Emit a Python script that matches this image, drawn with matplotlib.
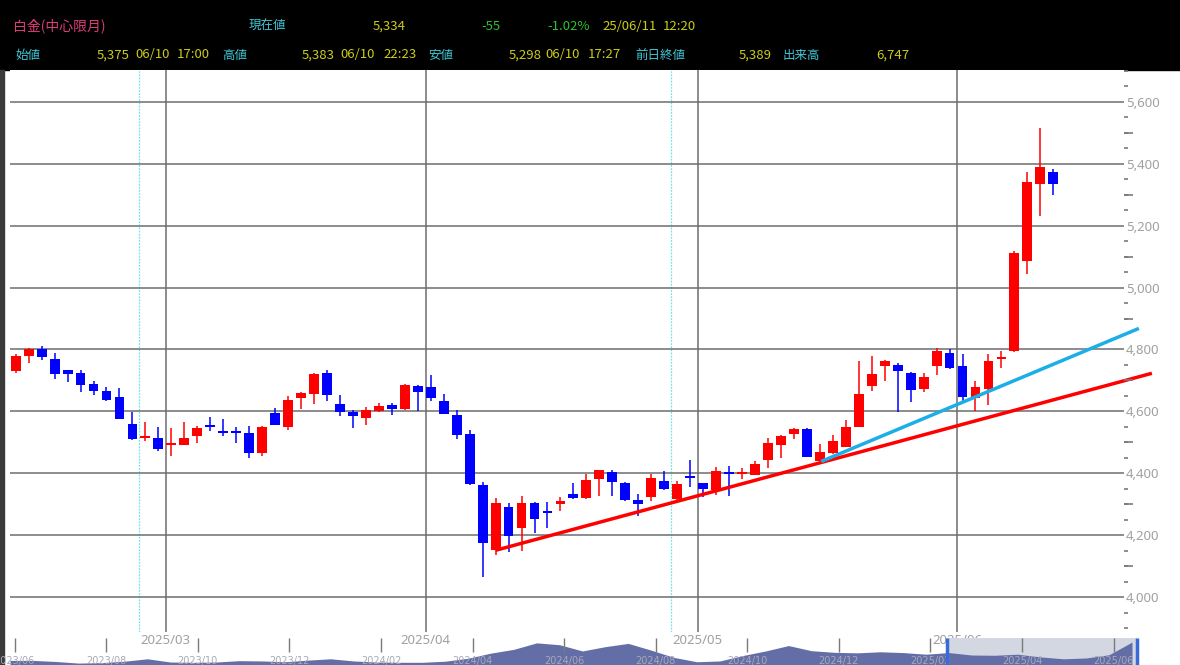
import numpy as np
import matplotlib
matplotlib.use('Agg')
import matplotlib.pyplot as plt
from matplotlib.patches import Rectangle
from matplotlib.ticker import MultipleLocator, FuncFormatter

# daily candles, platinum (front month)
opens = np.array([4730, 4778, 4800, 4770, 4733, 4725, 4687, 4665, 4646, 4560,
                  4513, 4513, 4492, 4492, 4519, 4554, 4538, 4535, 4529, 4465,
                  4595, 4551, 4643, 4656, 4724, 4624, 4597, 4580, 4600, 4619,
                  4609, 4681, 4678, 4632, 4587, 4526, 4362, 4151, 4292, 4224,
                  4305, 4278, 4299, 4332, 4319, 4382, 4405, 4367, 4313, 4322,
                  4376, 4317, 4391, 4367, 4345, 4402, 4398, 4395, 4443, 4490,
                  4526, 4543, 4440, 4465, 4486, 4550, 4683, 4748, 4749, 4724,
                  4673, 4746, 4789, 4746, 4643, 4673, 4768, 4795, 5085, 5335,
                  5375])
highs = np.array([4785, 4805, 4811, 4789, 4735, 4732, 4697, 4678, 4676, 4597,
                  4565, 4551, 4546, 4565, 4554, 4581, 4576, 4548, 4554, 4553,
                  4611, 4649, 4662, 4724, 4735, 4654, 4603, 4613, 4627, 4627,
                  4688, 4684, 4716, 4657, 4605, 4540, 4373, 4319, 4303, 4327,
                  4308, 4306, 4324, 4367, 4398, 4412, 4411, 4373, 4332, 4398,
                  4408, 4375, 4443, 4370, 4420, 4425, 4416, 4440, 4513, 4522,
                  4546, 4545, 4495, 4522, 4573, 4762, 4778, 4766, 4755, 4727,
                  4724, 4805, 4800, 4784, 4697, 4784, 4795, 5119, 5375, 5517,
                  5383])
lows = np.array([4725, 4755, 4765, 4703, 4695, 4662, 4652, 4635, 4574, 4508,
                 4505, 4473, 4456, 4490, 4497, 4535, 4521, 4497, 4448, 4457,
                 4555, 4541, 4609, 4624, 4635, 4584, 4546, 4557, 4598, 4589,
                 4605, 4600, 4635, 4590, 4511, 4362, 4065, 4137, 4144, 4148,
                 4208, 4224, 4279, 4317, 4317, 4327, 4327, 4311, 4263, 4311,
                 4347, 4315, 4354, 4324, 4330, 4327, 4380, 4393, 4418, 4448,
                 4511, 4451, 4438, 4462, 4484, 4548, 4667, 4699, 4597, 4630,
                 4662, 4719, 4738, 4632, 4600, 4622, 4740, 4793, 5045, 5232,
                 5298])
closes = np.array([4778, 4800, 4775, 4721, 4722, 4684, 4665, 4638, 4576, 4511,
                   4519, 4478, 4496, 4513, 4546, 4550, 4531, 4529, 4465, 4551,
                   4557, 4636, 4659, 4722, 4652, 4598, 4584, 4605, 4616, 4609,
                   4684, 4663, 4643, 4593, 4524, 4364, 4175, 4305, 4197, 4303,
                   4251, 4274, 4311, 4319, 4378, 4409, 4371, 4313, 4301, 4384,
                   4349, 4365, 4387, 4349, 4408, 4398, 4402, 4429, 4499, 4519,
                   4543, 4453, 4470, 4503, 4551, 4657, 4721, 4762, 4730, 4670,
                   4710, 4795, 4740, 4646, 4678, 4762, 4774, 5113, 5340, 5389,
                   5334])

# month boundaries and the two cyan marker lines (candle index units)
month_pos = [11.57, 31.6, 52.6, 72.6]
month_labels = ['2025/03', '2025/04', '2025/05', '2025/06']
cyan_pos = [9.5, 50.5]

# hand-drawn trend lines: (index, price) at both ends
red_line_x = [37, 87.6]
red_line_y = [4151, 4723]
blue_line_x = [62.1, 86.6]
blue_line_y = [4438, 4868]

# navigator strip (long term area, half-month steps, 0..1)
nav_vals = np.array([0.17, 0.17, 0.13, 0.07, 0.09, 0.14, 0.23, 0.11, 0.10, 0.11,
                     0.16, 0.15, 0.12, 0.18, 0.23, 0.15, 0.11, 0.10, 0.10, 0.14,
                     0.25, 0.44, 0.58, 0.82, 0.75, 0.52, 0.68, 0.80, 0.55, 0.28,
                     0.12, 0.15, 0.35, 0.52, 0.72, 0.53, 0.47, 0.45, 0.49, 0.46,
                     0.40, 0.46, 0.37, 0.36, 0.40, 0.30, 0.23, 0.26, 0.38, 0.85])
nav_labels = ['2023/06', '2023/08', '2023/10', '2023/12', '2024/02', '2024/04', '2024/06',
              '2024/08', '2024/10', '2024/12', '2025/02', '2025/04', '2025/06']
nav_window = [40.9, 49.2]

W, H = 1180, 665
fig = plt.figure(figsize=(11.8, 6.65), dpi=100, facecolor='white')

def fx(px):
    return px / W

def fy(py):
    return 1 - py / H

# black header + dark left border
fig.add_artist(Rectangle((0, fy(70)), 1, 70 / H, transform=fig.transFigure, color='black', zorder=0))
fig.add_artist(Rectangle((0, 0), 4 / W, fy(70), transform=fig.transFigure, color='#3a3a3a', zorder=0))

jp = ['Noto Sans CJK JP', 'DejaVu Sans']
pink, cyan, yellow, green = '#dc3c78', '#40c8d8', '#cccc18', '#2cc02c'
header = [
    ('白金(中心限月)', 13, 26, pink, 10),
    ('現在値', 249, 26, cyan, 9),
    ('5,334', 373, 26, yellow, 9.5),
    ('-55', 481, 26, green, 9.5),
    ('-1.02%', 547, 26, green, 9.5),
    ('25/06/11', 602, 26, yellow, 9.5),
    ('12:20', 663, 26, yellow, 9.5),
    ('始値', 15, 55, cyan, 9),
    ('5,375', 97, 55, yellow, 9.5),
    ('06/10', 135, 55, yellow, 9.5),
    ('17:00', 177, 55, yellow, 9.5),
    ('高値', 222, 55, cyan, 9),
    ('5,383', 302, 55, yellow, 9.5),
    ('06/10', 340, 55, yellow, 9.5),
    ('22:23', 383, 55, yellow, 9.5),
    ('安値', 428, 55, cyan, 9),
    ('5,298', 509, 55, yellow, 9.5),
    ('06/10', 545, 55, yellow, 9.5),
    ('17:27', 588, 55, yellow, 9.5),
    ('前日終値', 635, 55, cyan, 9),
    ('5,389', 739, 55, yellow, 9.5),
    ('出来高', 783, 55, cyan, 9),
    ('6,747', 876, 55, yellow, 9.5),
]
for s, px, py, c, fs in header:
    fig.text(fx(px), fy(py), s, ha='left', va='center', color=c, fontsize=fs, family=jp)

# main price axes
ax = fig.add_axes([fx(10), fy(632), fx(1124) - fx(10), (632 - 70) / H])
ax.set_facecolor('white')
ax.set_xlim(-0.44, 85.45)
ax.set_ylim(3887, 5703)

# second y axis only for the longer 100-step dashes
ax2 = ax.twinx()
ax2.set_ylim(ax.get_ylim())
ax2.set_yticks(np.arange(4100, 5700, 200))
ax2.tick_params(axis='y', length=6.5, width=1.2, color='#7a7a7a', labelright=False)
for sp in ax2.spines.values():
    sp.set_visible(False)

for sp in ax.spines.values():
    sp.set_visible(False)

x = np.arange(len(opens))
up = closes >= opens
colors = np.where(up, '#ff0000', '#0000ff')
ax.vlines(x, lows, highs, colors=colors, lw=1.1, zorder=3)
body_h = np.maximum(np.abs(closes - opens), 6)
body_mid = (opens + closes) / 2
ax.bar(x, body_h, bottom=body_mid - body_h / 2, width=0.76, color=colors, lw=0, zorder=4)

ax.set_xticks([])
ax.set_yticks(np.arange(4000, 5601, 200))
ax.grid(axis='y', color='#6e6e6e', lw=1.1, zorder=1)
for p in month_pos:
    ax.axvline(p, color='#6e6e6e', lw=1.1, zorder=1)
for p in cyan_pos:
    ax.axvline(p, color='#70e4ee', lw=0.9, ls=(0, (1.5, 1)), zorder=1)
for p, lab in zip(month_pos, month_labels):
    ax.text(p, -0.016, lab, transform=ax.get_xaxis_transform(), ha='center', va='center',
            fontsize=9.5, color='#a0a0a0', family='Noto Sans', clip_on=False, zorder=6)

ax.yaxis.tick_right()
ax.yaxis.set_label_position('right')
ax.yaxis.set_major_formatter(FuncFormatter(lambda v, pos: f'{v:,.0f}'))
ax.yaxis.set_minor_locator(MultipleLocator(50))
ax.tick_params(axis='y', which='major', left=False, right=True, labelleft=False, labelright=True,
               length=0, pad=1.5, labelsize=9.5, labelcolor='#a0a0a0')
ax.tick_params(axis='y', which='minor', left=False, right=True, length=3, width=1.2,
               color='#7a7a7a', direction='out')
for t in ax.get_yticklabels():
    t.set_family('Noto Sans')

ax.plot(red_line_x, red_line_y, color='#ff0000', lw=2.5, clip_on=False, zorder=5, solid_capstyle='butt')
ax.plot(blue_line_x, blue_line_y, color='#1caee6', lw=2.5, clip_on=False, zorder=5, solid_capstyle='butt')

# navigator strip at the bottom
nav = fig.add_axes([fx(10), 0, fx(1140) - fx(10), 28 / H])
nav.set_xlim(0, 49.35)
nav.set_ylim(0, 28)
nav.axis('off')
nav.axvspan(nav_window[0], nav_window[1], ymax=27 / 28, color='#d2d7e1', lw=0, zorder=0)
k = np.arange(len(nav_vals))
nav.fill_between(k, 0, nav_vals * 27, color='#646ea6', lw=0, zorder=2)
tick_k = 0.2 + 4 * np.arange(len(nav_labels))
nav.vlines(tick_k, 13, 27, color='#7a7a7a', lw=1, zorder=3)
for p, lab in zip(tick_k, nav_labels):
    nav.text(p, 4, lab, ha='center', va='center', fontsize=7, color='#a8a8b8', zorder=3)
nav.vlines(nav_window, 0, 27, color='#3a6ad8', lw=2.5, zorder=4)

plt.savefig('out.png', dpi=100, facecolor='white')
